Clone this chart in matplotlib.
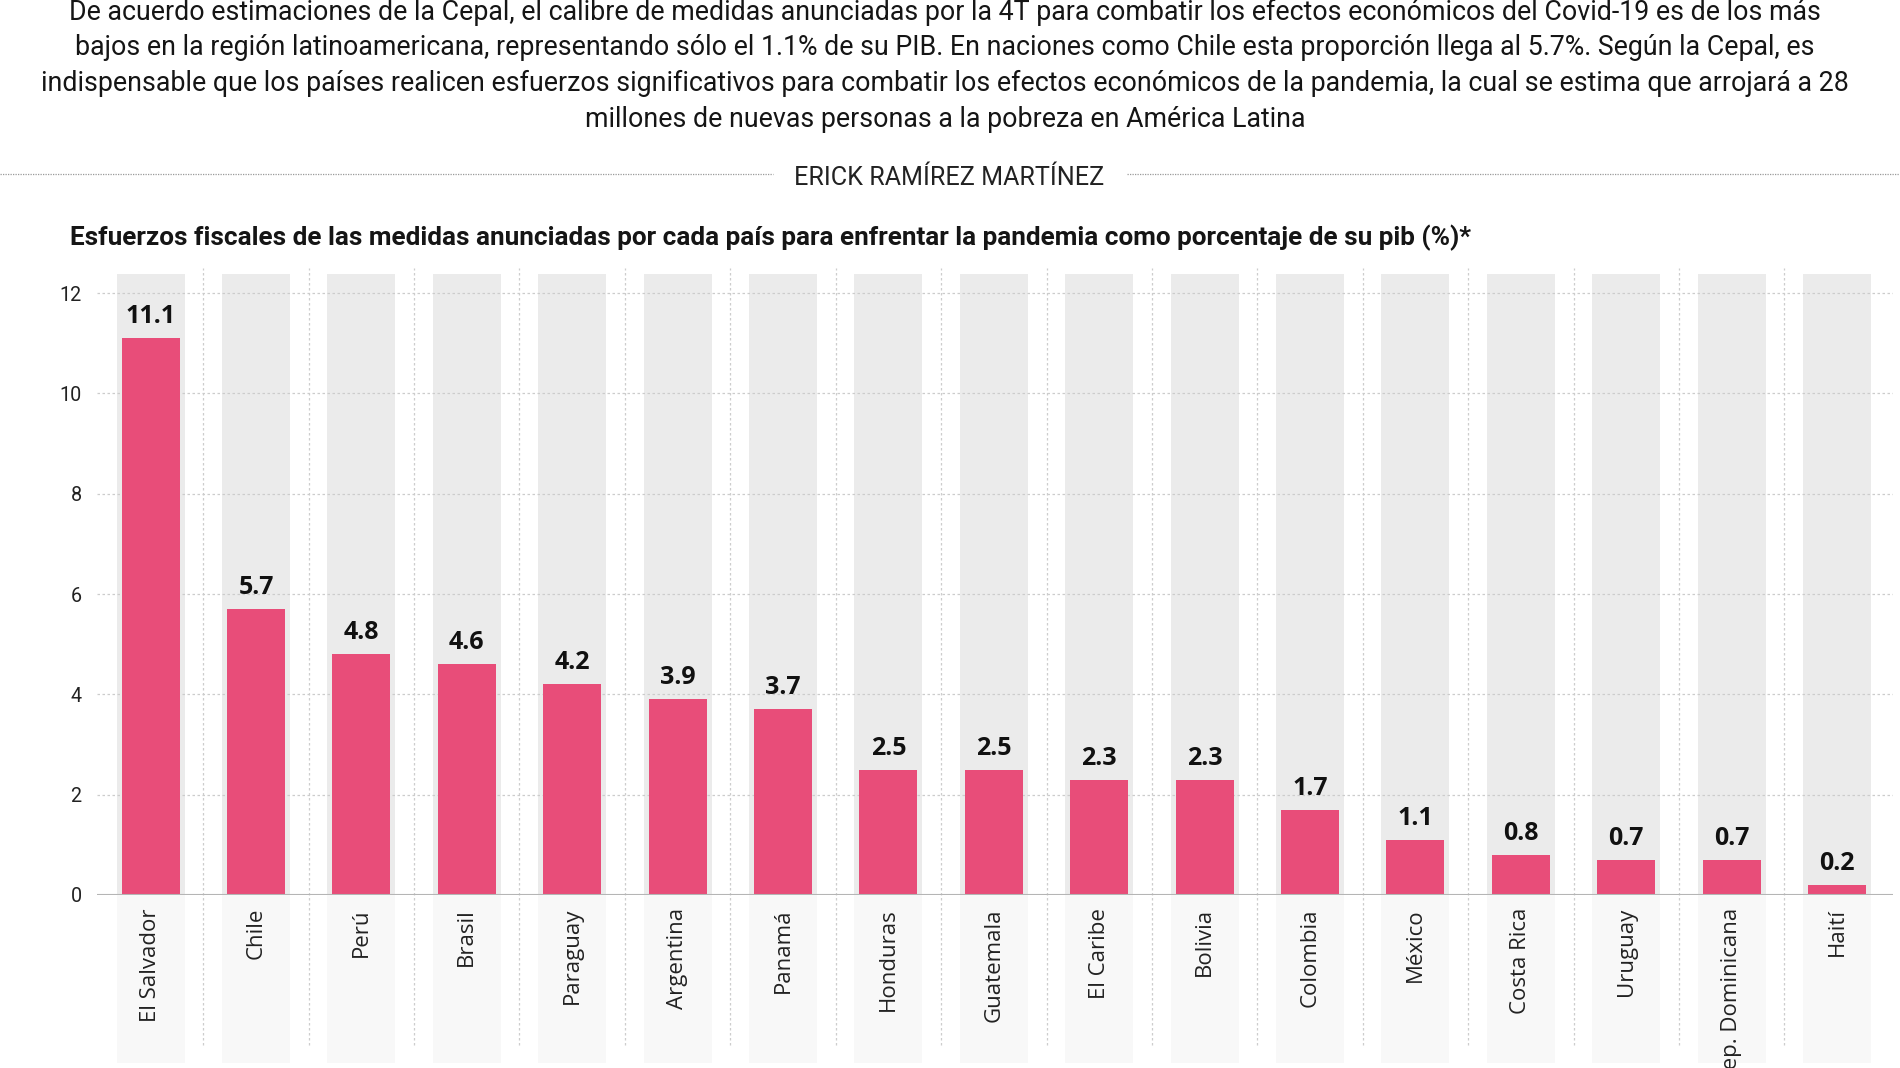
import matplotlib
matplotlib.use('Agg')
import matplotlib.pyplot as plt
from matplotlib import font_manager
from matplotlib.lines import Line2D

# datos: esfuerzo fiscal como % del PIB (Cepal)
paises = ['El Salvador', 'Chile', 'Perú', 'Brasil', 'Paraguay', 'Argentina', 'Panamá',
          'Honduras', 'Guatemala', 'El Caribe', 'Bolivia', 'Colombia', 'México',
          'Costa Rica', 'Uruguay', 'Rep. Dominicana', 'Haití']
esfuerzo_pib = [11.1, 5.7, 4.8, 4.6, 4.2, 3.9, 3.7, 2.5, 2.5, 2.3, 2.3, 1.7, 1.1,
                0.8, 0.7, 0.7, 0.2]
ticks_y = [0, 2, 4, 6, 8, 10, 12]

texto = [
    'De acuerdo estimaciones de la Cepal, el calibre de medidas anunciadas por la 4T para combatir los efectos económicos del Covid-19 es de los más',
    'bajos en la región latinoamericana, representando sólo el 1.1% de su PIB. En naciones como Chile esta proporción llega al 5.7%. Según la Cepal, es',
    'indispensable que los países realicen esfuerzos significativos para combatir los efectos económicos de la pandemia, la cual se estima que arrojará a 28',
    'millones de nuevas personas a la pobreza en América Latina',
]
autor = 'ERICK RAMÍREZ MARTÍNEZ'
titulo = 'Esfuerzos fiscales de las medidas anunciadas por cada país para enfrentar la pandemia como porcentaje de su pib (%)*'

# fuente angosta si existe
disponibles = {f.name for f in font_manager.fontManager.ttflist}
if 'Liberation Sans Narrow' in disponibles:
    ANGOSTA, k = 'Liberation Sans Narrow', 1.0
else:
    ANGOSTA, k = 'Roboto', 0.95
ANCHA = 'Open Sans'

ROSA = '#e84d79'
W, H = 1900, 1068


def fy(px):
    return 1 - px / H


fig = plt.figure(figsize=(W / 100, H / 100), dpi=100)

# texto de cabecera
for i, linea in enumerate(texto):
    fig.text(945 / W, fy(19.5 + 35.7 * i), linea, ha='center', va='baseline',
             fontsize=20.3 * k, family=ANGOSTA, color='#151515')

fig.text(949 / W, fy(185), autor, ha='center', va='baseline',
         fontsize=19 * k, family=ANGOSTA, color='#222222')
for x0, x1 in [(0, 773), (1127, W)]:
    fig.add_artist(Line2D([x0 / W, x1 / W], [fy(174), fy(174)], transform=fig.transFigure,
                          color='#9a9a9a', lw=0.9, ls=(0, (1, 1))))

fig.text(70 / W, fy(245), titulo, ha='left', va='baseline', fontsize=19.8 * k,
         family=ANGOSTA, fontweight='bold', color='#151515')

# grafica
ax = fig.add_axes([97 / W, (H - 895) / H, (1893 - 97) / W, (895 - 274) / H])
x = list(range(len(paises)))
tope = 12.38

ax.bar(x, [tope] * len(x), width=0.645, color='#ebebeb', zorder=0)
ax.bar(x, [3.35] * len(x), bottom=-3.35, width=0.645, color='#f8f8f8', zorder=0,
       clip_on=False)
ax.vlines([i + 0.5 for i in x[:-1]], -3.0, 12.5, colors='#cdcdcd', lw=0.9,
          linestyles=(0, (2, 2)), zorder=1, clip_on=False)
for t in ticks_y[1:]:
    ax.axhline(t, color='#cccccc', lw=0.9, ls=(0, (2, 2)), zorder=1)

barras = ax.bar(x, esfuerzo_pib, width=0.55, color=ROSA, zorder=2)
ax.axhline(0, color='#b5b5b5', lw=1.5, zorder=3)

for b, v in zip(barras, esfuerzo_pib):
    ax.annotate(f'{v:.1f}', (b.get_x() + b.get_width() / 2, v), xytext=(0, 6.5),
                textcoords='offset points', ha='center', va='bottom', fontsize=18,
                family=ANCHA, fontweight='bold', color='#111111')

ax.set_xlim(-0.508, 16.53)
ax.set_ylim(0, tope)
ax.set_yticks(ticks_y)
ax.set_yticklabels([str(t) for t in ticks_y], family=ANGOSTA, fontsize=15 * k,
                   color='#222222')
ax.set_xticks(x)
ax.set_xticklabels(paises, rotation=90, family=ANCHA, fontsize=16, color='#222222')
ax.tick_params(axis='both', length=0)
ax.tick_params(axis='y', pad=11)
ax.tick_params(axis='x', pad=9.4)
for s in ax.spines.values():
    s.set_visible(False)
ax.patch.set_alpha(0)

fig.savefig('out.png', dpi=100)
